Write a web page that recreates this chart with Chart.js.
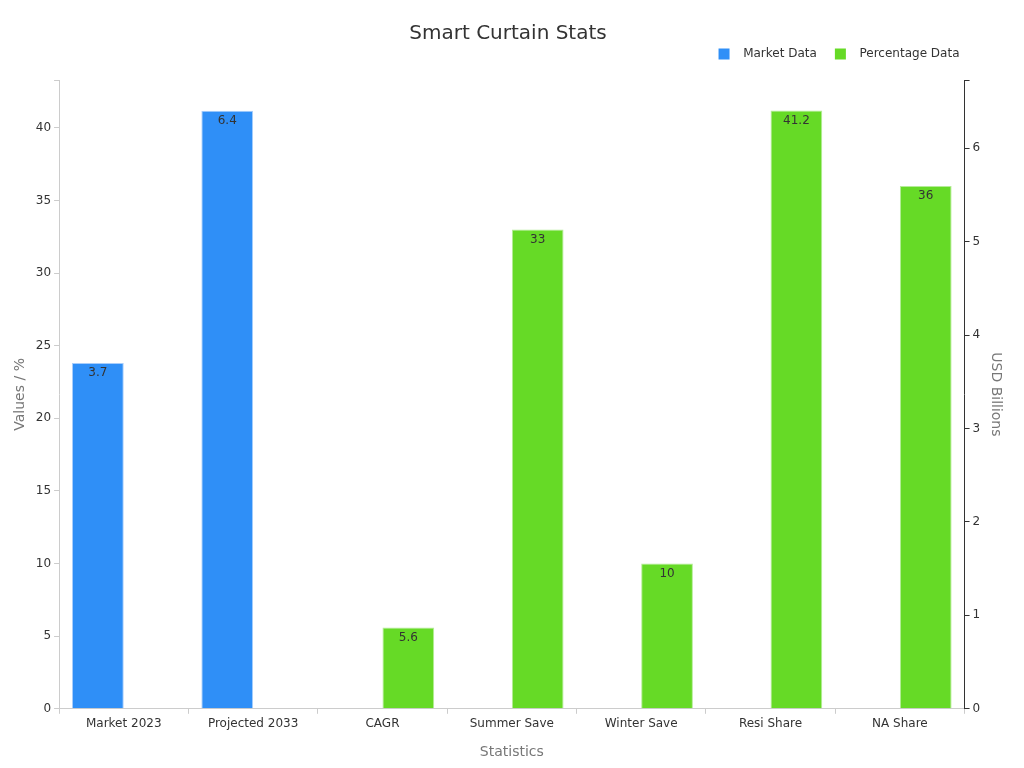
<!DOCTYPE html>
<html>
<head>
<meta charset="utf-8">
<script src="https://cdn.jsdelivr.net/npm/chart.js@4"></script>
<style>
  body { margin: 0; background: #fff; }
  #wrap { width: 1024px; height: 768px; }
</style>
</head>
<body>
<div id="wrap"><canvas id="grafico"></canvas></div>
<script>
const categorias = ['Market 2023', 'Projected 2033', 'CAGR', 'Summer Save', 'Winter Save', 'Resi Share', 'NA Share'];
const dadosMercado = [3.7, 6.4, null, null, null, null, null];
const dadosPercentagem = [null, null, 5.6, 33, 10, 41.2, 36];

// rótulos dentro do topo de cada barra
const rotulos = {
    id: 'rotulos',
    afterDatasetsDraw(chart) {
        const ctx = chart.ctx;
        ctx.save();
        ctx.font = '12px "DejaVu Sans", sans-serif';
        ctx.fillStyle = '#333';
        ctx.textAlign = 'center';
        ctx.textBaseline = 'top';
        chart.data.datasets.forEach((ds, i) => {
            chart.getDatasetMeta(i).data.forEach((bar, j) => {
                if (ds.data[j] == null) return;
                ctx.fillText(String(ds.data[j]), bar.x, bar.y + 4);
            });
        });
        ctx.restore();
    }
};

// espaço extra por baixo da legenda
const espacoLegenda = {
    id: 'espacoLegenda',
    beforeInit(chart) {
        const fit = chart.legend.fit;
        chart.legend.fit = function () { fit.call(this); this.height += 10; };
    }
};

const fonteTick = { size: 12, family: 'DejaVu Sans' };

new Chart(document.getElementById('grafico'), {
    type: 'bar',
    data: {
        labels: categorias,
        datasets: [
            { label: 'Market Data', data: dadosMercado, yAxisID: 'y1', backgroundColor: '#2f8ff7', borderColor: '#a8cdfb', borderWidth: 1 },
            { label: 'Percentage Data', data: dadosPercentagem, yAxisID: 'y', backgroundColor: '#66da26', borderColor: '#b5ec98', borderWidth: 1 }
        ]
    },
    options: {
        responsive: true,
        maintainAspectRatio: false,
        animation: false,
        layout: { padding: { left: 8, right: 16, bottom: 3 } },
        datasets: { bar: { barPercentage: 1, categoryPercentage: 0.8 } },
        plugins: {
            title: { display: true, text: 'Smart Curtain Stats', color: '#333', font: { size: 20, weight: 'normal', family: 'DejaVu Sans' }, padding: { top: 22, bottom: -16 } },
            legend: { align: 'end', labels: { boxWidth: 11, boxHeight: 11, color: '#333', padding: 18, font: { size: 12, family: 'DejaVu Sans' },
                generateLabels: ch => Chart.defaults.plugins.legend.labels.generateLabels(ch).map((l, i) =>
                    Object.assign(l, { text: '  ' + l.text + (i === 1 ? '        ' : ''), lineWidth: 0 })) } },
            tooltip: { enabled: false }
        },
        scales: {
            x: {
                grid: { display: true, drawOnChartArea: false, tickLength: 5, color: '#ccc' },
                border: { color: '#ccc' },
                ticks: { color: '#333', font: fonteTick },
                title: { display: true, text: 'Statistics', color: '#777', font: { size: 14, family: 'DejaVu Sans' }, padding: { top: 10, bottom: 4 } }
            },
            y: {
                position: 'left', min: 0, max: 43.3,
                grid: { display: true, drawOnChartArea: false, tickLength: 5, color: '#ccc' },
                border: { color: '#ccc' },
                ticks: { stepSize: 5, color: '#333', font: fonteTick,
                    callback: v => v % 5 === 0 ? v : '' },
                title: { display: true, text: 'Values / %', color: '#777', font: { size: 14, family: 'DejaVu Sans' } }
            },
            y1: {
                position: 'right', min: 0, max: 6.73,
                grid: { display: true, drawOnChartArea: false, tickLength: 5, color: '#333' },
                border: { color: '#333' },
                ticks: { stepSize: 1, color: '#333', font: fonteTick,
                    callback: v => Number.isInteger(v) ? v : '' },
                title: { display: true, text: 'USD Billions', color: '#777', font: { size: 14, family: 'DejaVu Sans' } }
            }
        }
    },
    plugins: [rotulos, espacoLegenda]
});
</script>
</body>
</html>
